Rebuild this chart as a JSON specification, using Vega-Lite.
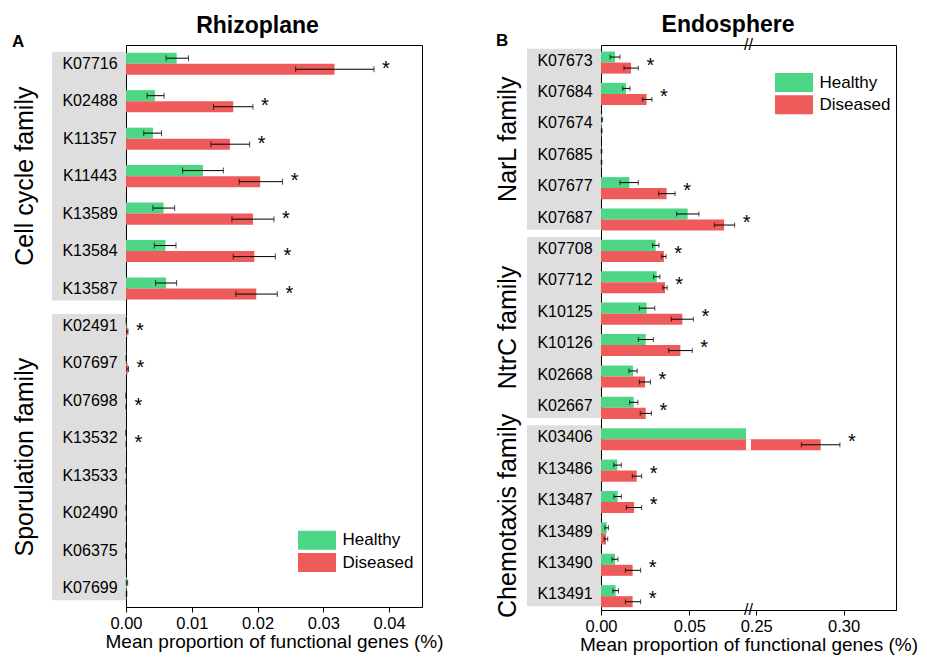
{
  "$schema": "https://vega.github.io/schema/vega-lite/v6.json",
  "background": "white",
  "padding": {"left": 12, "top": 13, "right": 2, "bottom": 2},
  "datasets": {
    "rhizo": [
      {"gene": "K07716", "group": "Healthy", "v": 0.0077, "lo": 0.0061, "hi": 0.0095, "sig": ""},
      {"gene": "K07716", "group": "Diseased", "v": 0.0317, "lo": 0.0258, "hi": 0.0377, "sig": "*"},
      {"gene": "K02488", "group": "Healthy", "v": 0.0044, "lo": 0.0032, "hi": 0.0058, "sig": ""},
      {"gene": "K02488", "group": "Diseased", "v": 0.0163, "lo": 0.0133, "hi": 0.0193, "sig": "*"},
      {"gene": "K11357", "group": "Healthy", "v": 0.0041, "lo": 0.0027, "hi": 0.0054, "sig": ""},
      {"gene": "K11357", "group": "Diseased", "v": 0.0158, "lo": 0.0129, "hi": 0.0188, "sig": "*"},
      {"gene": "K11443", "group": "Healthy", "v": 0.0117, "lo": 0.0086, "hi": 0.0148, "sig": ""},
      {"gene": "K11443", "group": "Diseased", "v": 0.0204, "lo": 0.0172, "hi": 0.0238, "sig": "*"},
      {"gene": "K13589", "group": "Healthy", "v": 0.0057, "lo": 0.0041, "hi": 0.0074, "sig": ""},
      {"gene": "K13589", "group": "Diseased", "v": 0.0193, "lo": 0.0161, "hi": 0.0225, "sig": "*"},
      {"gene": "K13584", "group": "Healthy", "v": 0.0060, "lo": 0.0043, "hi": 0.0076, "sig": ""},
      {"gene": "K13584", "group": "Diseased", "v": 0.0195, "lo": 0.0163, "hi": 0.0227, "sig": "*"},
      {"gene": "K13587", "group": "Healthy", "v": 0.0061, "lo": 0.0045, "hi": 0.0077, "sig": ""},
      {"gene": "K13587", "group": "Diseased", "v": 0.0198, "lo": 0.0167, "hi": 0.0230, "sig": "*"},
      {"gene": "K02491", "group": "Healthy", "v": 0.00005, "lo": 0.00002, "hi": 0.00008, "sig": ""},
      {"gene": "K02491", "group": "Diseased", "v": 0.0002, "lo": 0.0001, "hi": 0.0003, "sig": "*"},
      {"gene": "K07697", "group": "Healthy", "v": 0.00004, "lo": 0.00001, "hi": 0.00007, "sig": ""},
      {"gene": "K07697", "group": "Diseased", "v": 0.00025, "lo": 0.00012, "hi": 0.00038, "sig": "*"},
      {"gene": "K07698", "group": "Healthy", "v": 0.00001, "lo": 0, "hi": 0.00002, "sig": ""},
      {"gene": "K07698", "group": "Diseased", "v": 0.00003, "lo": 0.00001, "hi": 0.00005, "sig": "*"},
      {"gene": "K13532", "group": "Healthy", "v": 0.00001, "lo": 0, "hi": 0.00002, "sig": ""},
      {"gene": "K13532", "group": "Diseased", "v": 0.00004, "lo": 0.00002, "hi": 0.00006, "sig": "*"},
      {"gene": "K13533", "group": "Healthy", "v": 0.00003, "lo": 0.00001, "hi": 0.00005, "sig": ""},
      {"gene": "K13533", "group": "Diseased", "v": 0.00004, "lo": 0.00002, "hi": 0.00006, "sig": ""},
      {"gene": "K02490", "group": "Healthy", "v": 0.00003, "lo": 0.00001, "hi": 0.00005, "sig": ""},
      {"gene": "K02490", "group": "Diseased", "v": 0.00005, "lo": 0.00002, "hi": 0.00008, "sig": ""},
      {"gene": "K06375", "group": "Healthy", "v": 0.00001, "lo": 0, "hi": 0.00002, "sig": ""},
      {"gene": "K06375", "group": "Diseased", "v": 0.00002, "lo": 0.00001, "hi": 0.00003, "sig": ""},
      {"gene": "K07699", "group": "Healthy", "v": 0.00015, "lo": 0.00005, "hi": 0.00025, "sig": ""},
      {"gene": "K07699", "group": "Diseased", "v": 0.00008, "lo": 0.00003, "hi": 0.00013, "sig": ""}
    ],
    "endo": [
      {"gene": "K07673", "group": "Healthy", "v": 0.0079, "lo": 0.0051, "hi": 0.0107, "sig": ""},
      {"gene": "K07673", "group": "Diseased", "v": 0.0170, "lo": 0.0130, "hi": 0.0211, "sig": "*"},
      {"gene": "K07684", "group": "Healthy", "v": 0.0141, "lo": 0.0123, "hi": 0.0164, "sig": ""},
      {"gene": "K07684", "group": "Diseased", "v": 0.0258, "lo": 0.0236, "hi": 0.0288, "sig": "*"},
      {"gene": "K07674", "group": "Healthy", "v": 0.0006, "lo": 0.0003, "hi": 0.0009, "sig": ""},
      {"gene": "K07674", "group": "Diseased", "v": 0.0004, "lo": 0.0002, "hi": 0.0006, "sig": ""},
      {"gene": "K07685", "group": "Healthy", "v": 0.0003, "lo": 0.0001, "hi": 0.0005, "sig": ""},
      {"gene": "K07685", "group": "Diseased", "v": 0.0003, "lo": 0.0001, "hi": 0.0005, "sig": ""},
      {"gene": "K07677", "group": "Healthy", "v": 0.0160, "lo": 0.0107, "hi": 0.0211, "sig": ""},
      {"gene": "K07677", "group": "Diseased", "v": 0.0371, "lo": 0.0326, "hi": 0.0419, "sig": "*"},
      {"gene": "K07687", "group": "Healthy", "v": 0.0490, "lo": 0.0428, "hi": 0.0554, "sig": ""},
      {"gene": "K07687", "group": "Diseased", "v": 0.0696, "lo": 0.0641, "hi": 0.0756, "sig": "*"},
      {"gene": "K07708", "group": "Healthy", "v": 0.0309, "lo": 0.0292, "hi": 0.0328, "sig": ""},
      {"gene": "K07708", "group": "Diseased", "v": 0.0356, "lo": 0.0343, "hi": 0.0368, "sig": "*"},
      {"gene": "K07712", "group": "Healthy", "v": 0.0315, "lo": 0.0297, "hi": 0.0333, "sig": ""},
      {"gene": "K07712", "group": "Diseased", "v": 0.0362, "lo": 0.0350, "hi": 0.0374, "sig": "*"},
      {"gene": "K10125", "group": "Healthy", "v": 0.0258, "lo": 0.0217, "hi": 0.0304, "sig": ""},
      {"gene": "K10125", "group": "Diseased", "v": 0.0460, "lo": 0.0398, "hi": 0.0522, "sig": "*"},
      {"gene": "K10126", "group": "Healthy", "v": 0.0253, "lo": 0.0211, "hi": 0.0296, "sig": ""},
      {"gene": "K10126", "group": "Diseased", "v": 0.0449, "lo": 0.0383, "hi": 0.0516, "sig": "*"},
      {"gene": "K02668", "group": "Healthy", "v": 0.0181, "lo": 0.0158, "hi": 0.0205, "sig": ""},
      {"gene": "K02668", "group": "Diseased", "v": 0.0249, "lo": 0.0217, "hi": 0.0280, "sig": "*"},
      {"gene": "K02667", "group": "Healthy", "v": 0.0185, "lo": 0.0162, "hi": 0.0209, "sig": ""},
      {"gene": "K02667", "group": "Diseased", "v": 0.0253, "lo": 0.0222, "hi": 0.0285, "sig": "*"},
      {"gene": "K03406", "group": "Healthy", "v": 0.0820, "lo": null, "hi": null, "sig": ""},
      {"gene": "K03406", "group": "Diseased", "v": 0.2869, "lo": 0.2758, "hi": 0.2979, "sig": "*"},
      {"gene": "K13486", "group": "Healthy", "v": 0.0092, "lo": 0.0072, "hi": 0.0115, "sig": ""},
      {"gene": "K13486", "group": "Diseased", "v": 0.0202, "lo": 0.0177, "hi": 0.0230, "sig": "*"},
      {"gene": "K13487", "group": "Healthy", "v": 0.0094, "lo": 0.0073, "hi": 0.0115, "sig": ""},
      {"gene": "K13487", "group": "Diseased", "v": 0.0187, "lo": 0.0143, "hi": 0.0230, "sig": "*"},
      {"gene": "K13489", "group": "Healthy", "v": 0.0032, "lo": 0.0022, "hi": 0.0042, "sig": ""},
      {"gene": "K13489", "group": "Diseased", "v": 0.0028, "lo": 0.0018, "hi": 0.0038, "sig": ""},
      {"gene": "K13490", "group": "Healthy", "v": 0.0079, "lo": 0.0062, "hi": 0.0096, "sig": ""},
      {"gene": "K13490", "group": "Diseased", "v": 0.0179, "lo": 0.0138, "hi": 0.0224, "sig": "*"},
      {"gene": "K13491", "group": "Healthy", "v": 0.0083, "lo": 0.0067, "hi": 0.0099, "sig": ""},
      {"gene": "K13491", "group": "Diseased", "v": 0.0179, "lo": 0.0138, "hi": 0.0224, "sig": "*"}
    ],
    "rfam": [
      {"family": "Cell cycle family", "first": "K07716", "last": "K13587", "mid": "K11443"},
      {"family": "Sporulation family", "first": "K02491", "last": "K07699", "mid": "K13533"}
    ],
    "efam": [
      {"family": "NarL family", "first": "K07673", "last": "K07687", "mid": "K07685"},
      {"family": "NtrC family", "first": "K07708", "last": "K02667", "mid": "K10126"},
      {"family": "Chemotaxis family", "first": "K03406", "last": "K13491", "mid": "K13489"}
    ],
    "gap": [{"gene": "K03406", "group": "Diseased", "gs": 0.0822, "ge": 0.2468}],
    "brk": [{"b": 0.1645, "t": "//"}]
  },
  "hconcat": [
    {
      "width": 40, "height": 562,
      "view": {"stroke": null},
      "title": {"text": "A", "anchor": "start", "fontSize": 17, "fontWeight": "bold", "offset": -18.7, "baseline": "alphabetic", "frame": "group"},
      "data": {"name": "rfam"},
      "layer": [
        {
          "transform": [{"filter": "datum.family == 'Cell cycle family'"}],
          "mark": {"type": "text", "angle": 270, "fontSize": 25, "baseline": "alphabetic", "align": "center", "dy": 1, "color": "black"},
          "encoding": {
            "y": {"field": "mid", "type": "nominal", "scale": {"domain": ["K07716","K02488","K11357","K11443","K13589","K13584","K13587","K02491","K07697","K07698","K13532","K13533","K02490","K06375","K07699"], "paddingInner": 0, "paddingOuter": 0}, "axis": null},
            "text": {"field": "family"}
          }
        },
        {
          "transform": [{"filter": "datum.family != 'Cell cycle family'"}],
          "mark": {"type": "text", "angle": 270, "fontSize": 25, "baseline": "alphabetic", "align": "center", "dx": 18.7, "dy": 1, "color": "black"},
          "encoding": {
            "y": {"field": "mid", "type": "nominal", "axis": null},
            "text": {"field": "family"}
          }
        }
      ]
    },
    {
      "width": 74, "height": 562,
      "view": {"stroke": null},
      "layer": [
        {
          "data": {"name": "rfam"},
          "mark": {"type": "rect", "color": "#dedede"},
          "encoding": {
            "y": {"field": "first", "type": "nominal", "bandPosition": 0, "scale": {"domain": ["K07716","K02488","K11357","K11443","K13589","K13584","K13587","K02491","K07697","K07698","K13532","K13533","K02490","K06375","K07699"], "paddingInner": 0.36, "paddingOuter": 0.18}, "axis": null},
            "y2": {"field": "last", "bandPosition": 1}
          }
        },
        {
          "data": {"name": "rhizo"},
          "transform": [{"filter": "datum.group == 'Healthy'"}],
          "mark": {"type": "text", "fontSize": 16, "dx": 1, "color": "black"},
          "encoding": {
            "y": {"field": "gene", "type": "nominal", "axis": null},
            "text": {"field": "gene"}
          }
        }
      ]
    },
    {
      "width": 296, "height": 562,
      "title": {"text": "Rhizoplane", "fontSize": 23, "fontWeight": "bold", "offset": -11.3, "dx": -16.5, "baseline": "alphabetic", "anchor": "middle", "color": "black", "frame": "group"},
      "data": {"name": "rhizo"},
      "encoding": {
        "y": {"field": "gene", "type": "nominal", "scale": {"domain": ["K07716","K02488","K11357","K11443","K13589","K13584","K13587","K02491","K07697","K07698","K13532","K13533","K02490","K06375","K07699"], "paddingInner": 0.41, "paddingOuter": 0.205}, "axis": null}
      },
      "layer": [
        {
          "mark": {"type": "bar"},
          "encoding": {
            "x": {"field": "v", "type": "quantitative", "title": "Mean proportion of functional genes (%)", "scale": {"domain": [0, 0.045], "nice": false, "zero": false},
              "axis": {"values": [0, 0.01, 0.02, 0.03, 0.04], "format": ".2f", "labelFlush": false, "labelPadding": 3, "titlePadding": 1}},
            "yOffset": {"field": "group", "type": "nominal", "scale": {"domain": ["Healthy", "Diseased"]}},
            "color": {"field": "group", "type": "nominal", "scale": {"domain": ["Healthy", "Diseased"], "range": ["#4dd685", "#ef5b5b"]},
              "legend": {"orient": "none", "legendX": 181.5, "legendY": 485.7, "title": null, "symbolType": "M-2,-1H2V1H-2Z", "symbolSize": 361, "symbolStrokeWidth": 0, "symbolOpacity": 1, "labelFontSize": 17, "labelColor": "black", "labelOffset": 16, "rowPadding": 3.3, "padding": 0}}
          }
        },
        {
          "mark": {"type": "rule", "color": "black", "strokeWidth": 1},
          "encoding": {
            "x": {"field": "lo", "type": "quantitative", "title": "Mean proportion of functional genes (%)"},
            "x2": {"field": "hi"},
            "yOffset": {"field": "group", "type": "nominal"}
          }
        },
        {
          "mark": {"type": "tick", "orient": "vertical", "color": "black", "size": 6, "thickness": 1},
          "encoding": {
            "x": {"field": "lo", "type": "quantitative", "title": "Mean proportion of functional genes (%)"},
            "yOffset": {"field": "group", "type": "nominal"}
          }
        },
        {
          "mark": {"type": "tick", "orient": "vertical", "color": "black", "size": 6, "thickness": 1},
          "encoding": {
            "x": {"field": "hi", "type": "quantitative", "title": "Mean proportion of functional genes (%)"},
            "yOffset": {"field": "group", "type": "nominal"}
          }
        },
        {
          "transform": [{"filter": "datum.group == 'Diseased' && datum.sig == '*'"}],
          "mark": {"type": "text", "fontSize": 20, "dx": 12, "dy": 5, "color": "black"},
          "encoding": {
            "x": {"field": "hi", "type": "quantitative", "title": "Mean proportion of functional genes (%)"},
            "text": {"field": "sig"}
          }
        }
      ]
    },
    {
      "width": 105, "height": 565,
      "view": {"stroke": null},
      "title": {"text": "B", "anchor": "start", "fontSize": 17, "fontWeight": "bold", "offset": -18, "dx": 74, "baseline": "alphabetic", "frame": "group"},
      "data": {"name": "efam"},
      "mark": {"type": "text", "angle": 270, "fontSize": 25, "baseline": "alphabetic", "align": "center", "dx": 15.7, "dy": 41.5, "color": "black"},
      "encoding": {
        "y": {"field": "mid", "type": "nominal", "scale": {"domain": ["K07673","K07684","K07674","K07685","K07677","K07687","K07708","K07712","K10125","K10126","K02668","K02667","K03406","K13486","K13487","K13489","K13490","K13491"], "paddingInner": 0, "paddingOuter": 0}, "axis": null},
        "text": {"field": "family"}
      }
    },
    {
      "width": 74, "height": 565,
      "view": {"stroke": null},
      "layer": [
        {
          "data": {"name": "efam"},
          "mark": {"type": "rect", "color": "#dedede"},
          "encoding": {
            "y": {"field": "first", "type": "nominal", "bandPosition": 0, "scale": {"domain": ["K07673","K07684","K07674","K07685","K07677","K07687","K07708","K07712","K10125","K10126","K02668","K02667","K03406","K13486","K13487","K13489","K13490","K13491"], "paddingInner": 0.235, "paddingOuter": 0.1175}, "axis": null},
            "y2": {"field": "last", "bandPosition": 1}
          }
        },
        {
          "data": {"name": "endo"},
          "transform": [{"filter": "datum.group == 'Healthy'"}],
          "mark": {"type": "text", "fontSize": 16, "dx": 1, "color": "black"},
          "encoding": {
            "y": {"field": "gene", "type": "nominal", "axis": null},
            "text": {"field": "gene"}
          }
        }
      ]
    },
    {
      "width": 295, "height": 565,
      "title": {"text": "Endosphere", "fontSize": 23, "fontWeight": "bold", "offset": -17.8, "dx": -20.5, "baseline": "alphabetic", "anchor": "middle", "color": "black", "frame": "group"},
      "data": {"name": "endo"},
      "encoding": {
        "y": {"field": "gene", "type": "nominal", "scale": {"domain": ["K07673","K07684","K07674","K07685","K07677","K07687","K07708","K07712","K10125","K10126","K02668","K02667","K03406","K13486","K13487","K13489","K13490","K13491"], "paddingInner": 0.415, "paddingOuter": 0.2075}, "axis": null}
      },
      "layer": [
        {
          "mark": {"type": "bar"},
          "encoding": {
            "x": {"field": "v", "type": "quantitative", "title": "Mean proportion of functional genes (%)", "scale": {"type": "linear", "domain": [0, 0.082, 0.247, 0.33], "range": [0, 145, 150, 295], "nice": false, "zero": false},
              "axis": {"values": [0, 0.05, 0.25, 0.3], "format": ".2f", "labelFlush": false, "labelPadding": 3, "titlePadding": 1}},
            "yOffset": {"field": "group", "type": "nominal", "scale": {"domain": ["Healthy", "Diseased"]}},
            "color": {"field": "group", "type": "nominal", "scale": {"domain": ["Healthy", "Diseased"], "range": ["#4dd685", "#ef5b5b"]},
              "legend": {"orient": "none", "legendX": 183.5, "legendY": 28, "title": null, "symbolType": "M-2,-1H2V1H-2Z", "symbolSize": 361, "symbolStrokeWidth": 0, "symbolOpacity": 1, "labelFontSize": 17, "labelColor": "black", "labelOffset": 16, "rowPadding": 3.3, "padding": 0}}
          }
        },
        {
          "data": {"name": "gap"},
          "mark": {"type": "rect", "color": "white"},
          "encoding": {
            "x": {"field": "gs", "type": "quantitative", "title": "Mean proportion of functional genes (%)"},
            "x2": {"field": "ge"},
            "yOffset": {"field": "group", "type": "nominal"}
          }
        },
        {
          "mark": {"type": "rule", "color": "black", "strokeWidth": 1},
          "encoding": {
            "x": {"field": "lo", "type": "quantitative", "title": "Mean proportion of functional genes (%)"},
            "x2": {"field": "hi"},
            "yOffset": {"field": "group", "type": "nominal"}
          }
        },
        {
          "mark": {"type": "tick", "orient": "vertical", "color": "black", "size": 5, "thickness": 1},
          "encoding": {
            "x": {"field": "lo", "type": "quantitative", "title": "Mean proportion of functional genes (%)"},
            "yOffset": {"field": "group", "type": "nominal"}
          }
        },
        {
          "mark": {"type": "tick", "orient": "vertical", "color": "black", "size": 5, "thickness": 1},
          "encoding": {
            "x": {"field": "hi", "type": "quantitative", "title": "Mean proportion of functional genes (%)"},
            "yOffset": {"field": "group", "type": "nominal"}
          }
        },
        {
          "transform": [{"filter": "datum.group == 'Diseased' && datum.sig == '*'"}],
          "mark": {"type": "text", "fontSize": 20, "dx": 12, "dy": 5, "color": "black"},
          "encoding": {
            "x": {"field": "hi", "type": "quantitative", "title": "Mean proportion of functional genes (%)"},
            "text": {"field": "sig"}
          }
        },
        {
          "data": {"name": "brk"},
          "mark": {"type": "text", "fontSize": 16, "baseline": "middle", "align": "center", "color": "black"},
          "encoding": {
            "x": {"field": "b", "type": "quantitative", "title": "Mean proportion of functional genes (%)"},
            "y": {"value": 0},
            "text": {"field": "t"}
          }
        },
        {
          "data": {"name": "brk"},
          "mark": {"type": "text", "fontSize": 16, "baseline": "middle", "align": "center", "color": "black"},
          "encoding": {
            "x": {"field": "b", "type": "quantitative", "title": "Mean proportion of functional genes (%)"},
            "y": {"value": "height"},
            "text": {"field": "t"}
          }
        }
      ]
    }
  ],
  "spacing": 0,
  "bounds": "flush",
  "resolve": {"scale": {"color": "independent", "y": "independent", "x": "independent"}, "legend": {"color": "independent"}},
  "config": {
    "font": "Liberation Sans",
    "view": {"stroke": "black", "strokeWidth": 1},
    "axis": {"labelColor": "black", "titleColor": "black", "domainColor": "black", "tickColor": "black", "labelFontSize": 16.5, "titleFontSize": 19, "titleFontWeight": "normal", "grid": false, "tickSize": 5, "labelFont": "Liberation Sans", "titleFont": "Liberation Sans"},
    "title": {"color": "black", "font": "Liberation Sans"},
    "legend": {"labelFont": "Liberation Sans"},
    "text": {"font": "Liberation Sans"}
  }
}
